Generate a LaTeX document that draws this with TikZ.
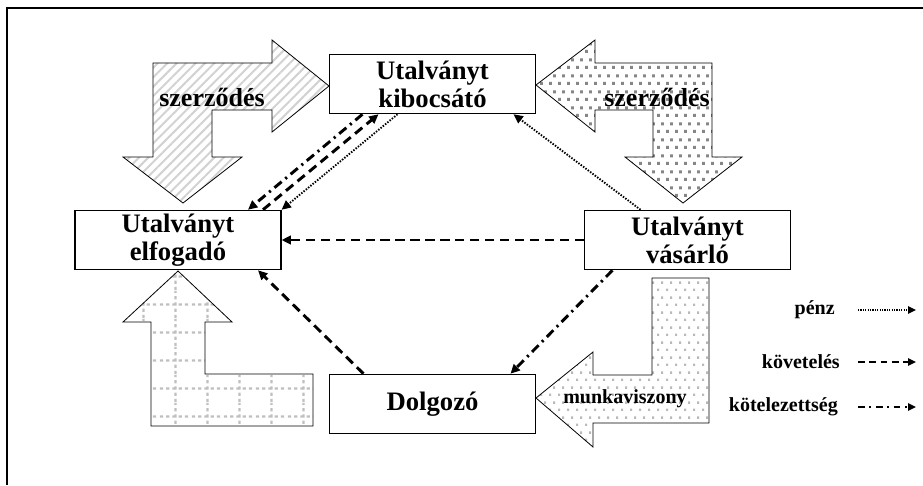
\documentclass[tikz,border=0pt]{standalone}
\usepackage{fontspec}
\setmainfont{Liberation Serif}
\usetikzlibrary{arrows.meta,patterns.meta,calc}

% fill patterns for the four relation arrows
\tikzdeclarepattern{
  name=bigsq, type=uncolored,
  bounding box={(0pt,0pt) and (6.75pt,12pt)},
  tile size={(6.75pt,12pt)},
  code={
    \pgfpathrectangle{\pgfpoint{0pt}{0pt}}{\pgfpoint{2.4pt}{2.4pt}}
    \pgfpathrectangle{\pgfpoint{3.375pt}{6pt}}{\pgfpoint{2.4pt}{2.4pt}}
    \pgfusepath{fill}
  }
}
\tikzdeclarepattern{
  name=smallsq, type=uncolored,
  bounding box={(0pt,0pt) and (6.75pt,11pt)},
  tile size={(6.75pt,11pt)},
  code={
    \pgfpathrectangle{\pgfpoint{0pt}{0pt}}{\pgfpoint{1.8pt}{1.8pt}}
    \pgfpathrectangle{\pgfpoint{3.375pt}{5.5pt}}{\pgfpoint{1.8pt}{1.8pt}}
    \pgfusepath{fill}
  }
}
\tikzdeclarepattern{
  name=dotgrid, type=uncolored,
  bounding box={(0pt,0pt) and (24pt,21pt)},
  tile size={(24pt,21pt)},
  code={
    \pgfsetlinewidth{1.7pt}
    \pgfsetdash{{2.4pt}{2.4pt}}{0pt}
    \pgfpathmoveto{\pgfpoint{0pt}{10.5pt}}\pgfpathlineto{\pgfpoint{24pt}{10.5pt}}
    \pgfpathmoveto{\pgfpoint{12pt}{0pt}}\pgfpathlineto{\pgfpoint{12pt}{21pt}}
    \pgfusepath{stroke}
  }
}

\tikzset{
  party/.style={draw, line width=0.9pt, minimum width=154.5pt, minimum height=44.5pt,
    inner sep=0pt, align=center, font=\bfseries\fontsize{20}{21}\selectfont},
  bigarrow/.style={draw=black, line width=0.6pt},
  arrowlbl/.style={inner sep=0pt, font=\bfseries\fontsize{19.5}{21}\selectfont},
  smalllbl/.style={inner sep=0pt, font=\bfseries\fontsize{15}{17}\selectfont},
  tip/.style={-{Triangle[length=7pt,width=6.5pt]}},
  smalltip/.style={-{Triangle[length=6pt,width=5.5pt]}},
  claim/.style={tip, line width=2.2pt, dash pattern=on 7pt off 4.2pt},
  duty/.style={tip, line width=2.2pt, dash pattern=on 7pt off 3.6pt on 1.6pt off 3.6pt},
  money/.style={tip, line width=1.4pt, dash pattern=on 1.1pt off 1.1pt},
  claimkey/.style={smalltip, line width=1.5pt, dash pattern=on 5pt off 3.5pt},
  dutykey/.style={smalltip, line width=1.5pt, dash pattern=on 5pt off 3.5pt on 1.4pt off 3.5pt},
  moneykey/.style={smalltip, line width=1.1pt, dash pattern=on 0.9pt off 0.9pt},
}

\begin{document}
\begin{tikzpicture}[x=0.75pt,y=-0.75pt]
\useasboundingbox (0,0) rectangle (923,485);

% page frame
\draw[line width=1.5pt] (7,485) -- (7,8) -- (923,8);

% contract arrows
\draw[bigarrow, pattern={Lines[angle=45,distance=5pt,line width=1.5pt]}, pattern color=gray!35]
  (153,63) -- (272,63) -- (272,40) -- (329,86) -- (272,132) -- (272,110) -- (212,110)
  -- (212,157) -- (242,157) -- (183,203) -- (123,157) -- (153,157) -- cycle;
\draw[bigarrow, pattern=bigsq, pattern color=gray!95]
  (536,85) -- (595,40) -- (595,63) -- (712,63) -- (712,157) -- (742,157) -- (683,203)
  -- (625,157) -- (653,157) -- (653,110) -- (595,110) -- (595,132) -- cycle;
\draw[bigarrow, pattern=dotgrid, pattern color=gray!50]
  (178,271) -- (232,322) -- (205,322) -- (205,374) -- (313,374) -- (313,426)
  -- (151,426) -- (151,322) -- (123,322) -- cycle;
\draw[bigarrow, pattern=smallsq, pattern color=gray!55]
  (536,398) -- (593,352) -- (593,375) -- (652,375) -- (652,278) -- (709,278)
  -- (709,423) -- (593,423) -- (593,447) -- cycle;

\node[arrowlbl] (lblA) at (212,97) {szerződés};
\node[arrowlbl] (lblB) at (657,97) {szerződés};
\node[smalllbl] (lblC) at (625,399) {munkaviszony};

% parties
\node[party] (kib) at (432.5,84) {Utalványt\\kibocsátó};
\node[party] (elf) at (178,240) {Utalványt\\elfogadó};
\node[party] (vas) at (687.5,240) {Utalványt\\vásárló};
\node[party] (dol) at (432.5,404) {Dolgozó};

% flows between the parties
\draw[duty]  ($(kib.south)+(-70,0)$) -- ($(elf.north)+(70,0)$);
\draw[claim] ($(elf.north)+(85,0)$) -- ($(kib.south)+(-54,0)$);
\draw[money] ($(kib.south)+(-35,0)$) -- (elf.north east);
\draw[money] ($(vas.north)+(-47,0)$) -- ($(kib.south)+(81,0)$);
\draw[claim] (vas.west) -- (elf.east);
\draw[duty]  ($(vas.south)+(-75,0)$) -- ($(dol.north)+(78,0)$);
\draw[claim] ($(dol.north)+(-69,0)$) -- ($(elf.south)+(80,0)$);

% key
\node[smalllbl, anchor=east] (k1) at (835,310) {pénz};
\node[smalllbl, anchor=east] (k2) at (840,362) {követelés};
\node[smalllbl, anchor=east] (k3) at (838,407) {kötelezettség};
\coordinate (k1a) at (858,310); \coordinate (k1b) at (916,310);
\coordinate (k2a) at (858,362); \coordinate (k2b) at (916,362);
\coordinate (k3a) at (858,407); \coordinate (k3b) at (916,407);
\draw[moneykey] (k1a) -- (k1b);
\draw[claimkey] (k2a) -- (k2b);
\draw[dutykey]  (k3a) -- (k3b);
\end{tikzpicture}
\end{document}
